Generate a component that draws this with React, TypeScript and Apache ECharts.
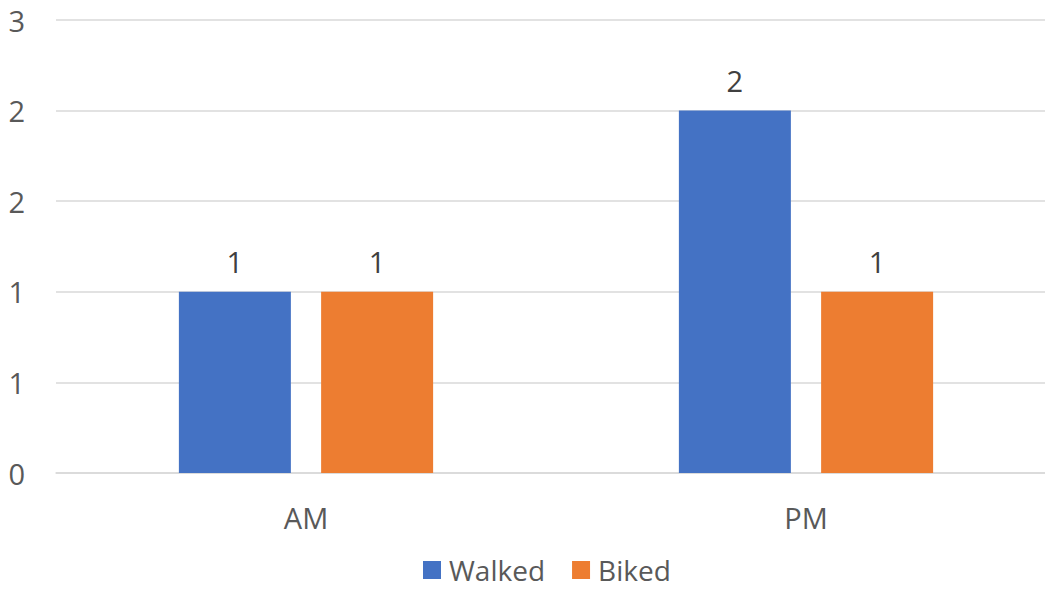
import React, { useEffect, useRef } from "react";
import * as echarts from "echarts";

const categories = ["AM", "PM"];
const walked = [1, 2];
const biked = [1, 1];
const seriesNames = ["Walked", "Biked"];
const colors = ["#4472C4", "#ED7D31"];

const FONT = "'Open Sans', 'Noto Sans', sans-serif";
const TEXT = "#595959";
const LABEL = "#404040";
const GRID = "#D9D9D9";
const FS = 29;

export default function App() {
  const ref = useRef<HTMLDivElement>(null);

  useEffect(() => {
    if (!ref.current) return;
    const chart = echarts.init(ref.current, null, { renderer: "svg" });
    const label = {
      show: true,
      position: "top" as const,
      distance: 16,
      color: LABEL,
      fontFamily: FONT,
      fontSize: FS,
    };
    chart.setOption({
      animation: false,
      textStyle: { fontFamily: FONT },
      color: colors,
      grid: {
        left: 56,
        width: 1000,
        top: 20,
        height: 453,
        containLabel: false,
        outerBoundsMode: "none",
      },
      legend: {
        top: 556,
        left: 423,
        icon: "rect",
        itemWidth: 18,
        itemHeight: 18,
        itemGap: 27,
        padding: 0,
        textStyle: {
          color: TEXT,
          fontSize: 28,
          lineHeight: 26,
          fontFamily: FONT,
          padding: [0, 0, 0, 3],
        },
        data: seriesNames,
      },
      xAxis: {
        type: "category",
        data: categories,
        axisLine: { lineStyle: { color: GRID, width: 1.5 } },
        axisTick: { show: false },
        axisLabel: { color: TEXT, fontSize: FS, fontFamily: FONT, margin: 30 },
      },
      yAxis: {
        type: "value",
        min: 0,
        max: 2.5,
        interval: 0.5,
        axisLine: { show: false },
        axisTick: { show: false },
        splitLine: { lineStyle: { color: GRID, width: 1.5 } },
        axisLabel: {
          color: TEXT,
          fontSize: FS,
          fontFamily: FONT,
          margin: 31,
          formatter: (v: number) => String(Math.round(v)),
        },
      },
      series: [
        { name: seriesNames[0], type: "bar", data: walked, barWidth: 112, barGap: "27%", label },
        { name: seriesNames[1], type: "bar", data: biked, barWidth: 112, barGap: "27%", label },
      ],
    });
    return () => chart.dispose();
  }, []);

  return (
    <div
      ref={ref}
      style={{ position: "absolute", left: 0, top: 0, width: 1045, height: 590, background: "#fff", overflow: "hidden" }}
    />
  );
}
